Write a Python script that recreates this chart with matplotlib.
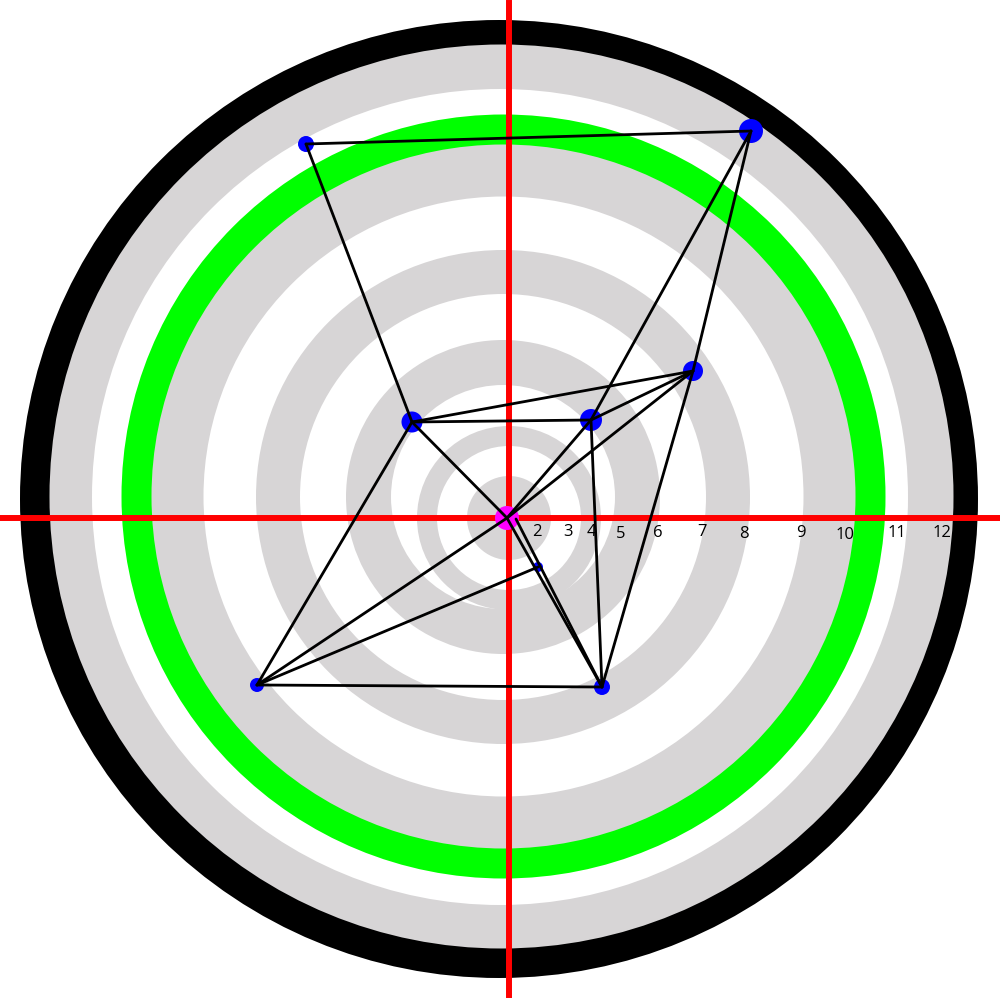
import matplotlib.pyplot as plt
from matplotlib.patches import Circle

# ring discs, drawn outside-in: (center x, center y, radius, colour)
ring_cx = [-10, -7.5, -9, -5.5, -5.5, -5.5, -6, -6, -6, -6, 0, 0, 0]
ring_cy = [19, 21.5, 21, 21.5, 21.5, 21.5, 21, 21, 21, 21, 0, 0, 0]
ring_r = [479, 452, 408, 382, 352, 300, 247, 203, 157, 112, 92, 72, 42]
ring_col = ['black', '#d7d5d6', 'white', '#00ff00', '#d7d5d6', 'white',
            '#d7d5d6', 'white', '#d7d5d6', 'white', '#d7d5d6', 'white', '#d7d5d6']

# nodes
names = ['O', 'O2', 'P1', 'P2', 'P3', 'P4', 'P5', 'P6', 'P7', 'P8']
xs = [-2, 7, -203, 242, 184, 82, -97, 29, -252, 93]
ys = [0, -1, 374, 387, 147, 98, 96, -49, -167, -169]
sizes = [12, 0, 8, 12, 10, 11, 10.5, 5, 7, 8]
colors = ['#ff00ff', '#ff00ff', 'blue', 'blue', 'blue', 'blue', 'blue', 'blue', 'blue', 'blue']

edges = [('P1', 'P2'), ('P1', 'P5'), ('P2', 'P4'), ('P2', 'P3'),
         ('P5', 'P3'), ('P5', 'P4'), ('P4', 'P3'), ('O', 'P5'), ('O', 'P4'),
         ('O', 'P3'), ('P3', 'P8'), ('P4', 'P8'), ('O', 'P8'), ('O2', 'P8'),
         ('P6', 'P7'), ('P7', 'P5'), ('O', 'P7'), ('P7', 'P8')]

# scale labels along the horizontal axis
label_text = ['2', '3', '4', '5', '6', '7', '8', '9', '10', '11', '12']
label_x = [28, 59, 82, 112, 149, 193, 235, 292, 336, 388, 433]
label_y = [-14, -14, -14, -16, -15, -14, -16, -15, -17, -15, -15]

fig = plt.figure(figsize=(10, 10), dpi=100)
ax = fig.add_axes([0, 0, 1, 1])
ax.set_xlim(-509, 491)
ax.set_ylim(-482, 518)
ax.set_aspect('equal')
ax.axis('off')

for cx, cy, r, c in zip(ring_cx, ring_cy, ring_r, ring_col):
    ax.add_patch(Circle((cx, cy), r, color=c, lw=0, zorder=1))

ax.axvline(0, ymin=0.005, ymax=0.997, color='#ff0000', lw=4.3, zorder=2)
ax.axhline(0, color='#ff0000', lw=4.3, zorder=2)

for t, lx, ly in zip(label_text, label_x, label_y):
    ax.text(lx, ly, t, fontsize=12, family='Open Sans', ha='center', va='center', zorder=3)

pos = {n: (x, y) for n, x, y in zip(names, xs, ys)}
for a, b in edges:
    ax.plot([pos[a][0], pos[b][0]], [pos[a][1], pos[b][1]], color='black', lw=2,
            solid_capstyle='round', zorder=5)

ax.scatter(xs, ys, s=[(2 * r * 0.72) ** 2 for r in sizes], c=colors, lw=0, zorder=4)

fig.savefig('out.png', dpi=100)
